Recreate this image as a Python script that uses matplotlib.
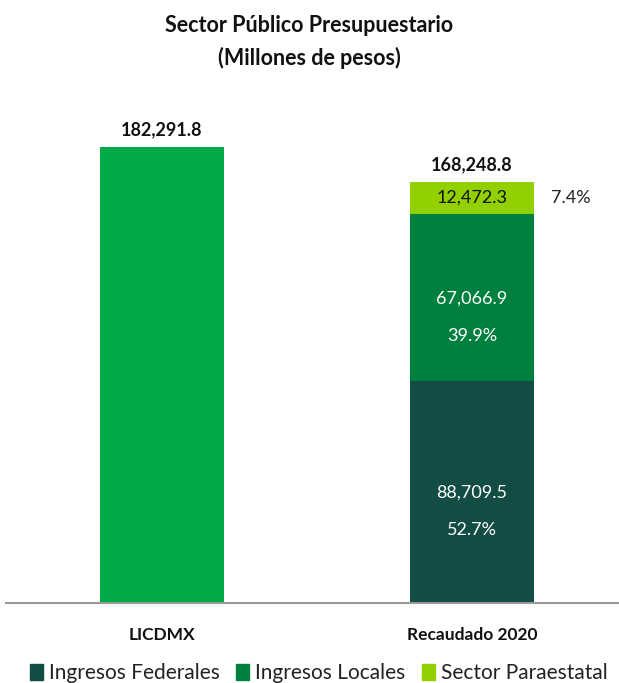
import numpy as np
import matplotlib
matplotlib.use('Agg')
import matplotlib.pyplot as plt
from matplotlib.patches import Patch

plt.rcParams['font.family'] = ['Lato', 'DejaVu Sans']

# data (millones de pesos)
categories = ['LICDMX', 'Recaudado 2020']
licdmx_total = 182291.8
federales = 88709.5
locales = 67066.9
paraestatal = 12472.3
recaudado_total = 168248.8
pct_federales = '52.7%'
pct_locales = '39.9%'
pct_paraestatal = '7.4%'

c_licdmx = '#00AB45'
c_fed = '#124C44'
c_loc = '#00803F'
c_par = '#92D000'

fig = plt.figure(figsize=(6.19, 6.83), dpi=100)
ax = fig.add_axes([6/619, 80/683, 613/619, 503/683])

w = 0.4
ax.bar(0, licdmx_total, width=w, color=c_licdmx)
ax.bar(1, federales, width=w, color=c_fed)
ax.bar(1, locales, width=w, bottom=federales, color=c_loc)
ax.bar(1, paraestatal, width=w, bottom=federales + locales, color=c_par)

ax.set_xlim(-0.503, 1.474)
ax.set_ylim(0, 201200)

def fmt(v):
    return '{:,.1f}'.format(v)

ax.text(0, licdmx_total + 3500, fmt(licdmx_total), ha='center', va='bottom',
        fontsize=13, fontweight='bold', color='#111111')
ax.text(1, recaudado_total + 3500, fmt(recaudado_total), ha='center', va='bottom',
        fontsize=13, fontweight='bold', color='#111111')

ax.text(1, federales * 0.5 - 200, fmt(federales), ha='center', va='center',
        fontsize=13, color='white')
ax.text(1, federales * 0.5 - 15000, pct_federales, ha='center', va='center',
        fontsize=13, color='white')
ax.text(1, federales + locales * 0.5 - 500, fmt(locales), ha='center', va='center',
        fontsize=13, color='white')
ax.text(1, federales + locales * 0.5 - 15300, pct_locales, ha='center', va='center',
        fontsize=13, color='white')
ax.text(1, federales + locales + paraestatal * 0.5, fmt(paraestatal), ha='center',
        va='center', fontsize=13, color='#111111')
ax.text(1.318, federales + locales + paraestatal * 0.5, pct_paraestatal, ha='center',
        va='center', fontsize=13, color='#222222')

for s in ['top', 'right', 'left']:
    ax.spines[s].set_visible(False)
ax.spines['bottom'].set_color('#999999')
ax.spines['bottom'].set_linewidth(1.5)
ax.set_yticks([])
ax.set_xticks([0, 1])
ax.set_xticklabels(categories, fontsize=12.5, fontweight='bold', color='#111111')
ax.tick_params(axis='x', length=0, pad=17)

fig.suptitle('Sector Público Presupuestario\n(Millones de pesos)', y=0.978,
             fontsize=15.5, fontweight='bold', color='#111111', linespacing=1.6)

handles = [Patch(color=c_fed, label='Ingresos Federales'),
           Patch(color=c_loc, label='Ingresos Locales'),
           Patch(color=c_par, label='Sector Paraestatal')]
fig.legend(handles=handles, loc='center', bbox_to_anchor=(0.515, 10/683), ncol=3,
           frameon=False, fontsize=15, handlelength=0.6, handleheight=0.8,
           handletextpad=0.3, columnspacing=0.8, labelcolor='#222222',
           borderpad=0)

fig.savefig('out.png', dpi=100)
